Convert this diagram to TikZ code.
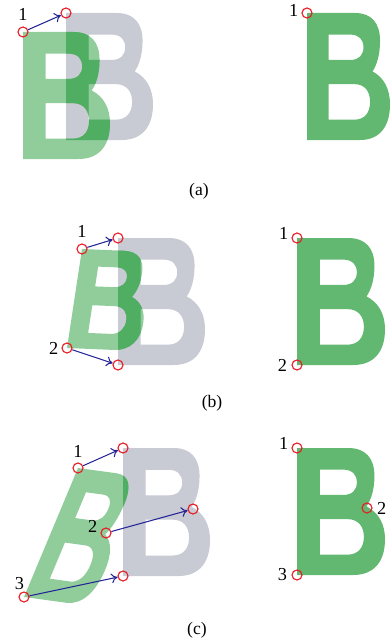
\documentclass[tikz,border=0pt]{standalone}
\usepackage{fontspec}
\setmainfont{Liberation Serif}
\usetikzlibrary{positioning,arrows.meta}

\definecolor{leafgreen}{RGB}{98,184,113}
\definecolor{deepgreen}{RGB}{80,174,98}
\definecolor{ghostgrey}{RGB}{200,202,212}
\definecolor{ringred}{RGB}{232,28,36}
\definecolor{arrowblue}{RGB}{36,36,150}

% letter B in a unit box, v pointing down
\newcommand{\Bpath}{(0,0) -- (0.58,0) .. controls (0.78,0) and (0.88,0.08) .. (0.88,0.22)
  .. controls (0.88,0.33) and (0.84,0.41) .. (0.79,0.46)
  .. controls (0.93,0.51) and (1,0.60) .. (1,0.72)
  .. controls (1,0.89) and (0.88,1) .. (0.64,1) -- (0,1) -- cycle
  (0.26,0.17) -- (0.52,0.17) .. controls (0.63,0.17) and (0.68,0.21) .. (0.68,0.27)
  .. controls (0.68,0.33) and (0.63,0.37) .. (0.52,0.37) -- (0.26,0.37) -- cycle
  (0.26,0.56) -- (0.57,0.56) .. controls (0.70,0.56) and (0.76,0.62) .. (0.76,0.70)
  .. controls (0.76,0.78) and (0.70,0.84) .. (0.57,0.84) -- (0.26,0.84) -- cycle}

\begin{document}
\begin{tikzpicture}[x=0.025cm, y=-0.025cm,
    ring/.style={circle, draw=ringred, line width=0.8pt, inner sep=0pt, minimum size=0.25cm},
    num/.style={inner sep=0pt, font=\fontsize{13}{15}\selectfont},
    panel/.style={inner sep=0pt, font=\fontsize{12.5}{15}\selectfont},
    arrow/.style={-{To[length=4.5pt,width=7pt]}, draw=arrowblue, line width=0.75pt},
    letterframe/.style n args={4}{x={(#1*0.025cm,-#2*0.025cm)}, y={(#3*0.025cm,-#4*0.025cm)}},
    fixedB/.style={fill=ghostgrey, even odd rule},
    movingB/.style={fill=leafgreen, fill opacity=0.7, even odd rule},
    solidB/.style={fill=leafgreen, even odd rule}
]
\useasboundingbox (0,0) rectangle (392,644);

% (a) shift only
\fill[fixedB, shift={(66,13)}, letterframe={87}{0}{0}{127}] \Bpath;
\fill[movingB, shift={(23,32)}, letterframe={87}{0}{0}{127}] \Bpath;
\begin{scope}[even odd rule]
  \clip[shift={(66,13)}, letterframe={87}{0}{0}{127}] \Bpath;
  \fill[deepgreen, shift={(23,32)}, letterframe={87}{0}{0}{127}] \Bpath;
\end{scope}
\fill[solidB, shift={(307,13)}, letterframe={83}{0}{0}{127}] \Bpath;

\node[ring] (a1) at (23,32) {};
\node[ring] (a1t) at (66,13) {};
\node[num, above=4pt of a1] (a1n) {1};
\draw[arrow] (a1) -- (a1t);
\node[ring] (ar1) at (307,13) {};
\node[num, left=2pt of ar1, yshift=2pt] (ar1n) {1};
\node[panel] (capa) at (199,191) {(a)};

% (b) two points
\fill[fixedB, shift={(118,238)}, letterframe={87}{0}{0}{127}] \Bpath;
\fill[movingB, shift={(82,249)}, letterframe={72}{3}{-15}{99}] \Bpath;
\begin{scope}[even odd rule]
  \clip[shift={(118,238)}, letterframe={87}{0}{0}{127}] \Bpath;
  \fill[deepgreen, shift={(82,249)}, letterframe={72}{3}{-15}{99}] \Bpath;
\end{scope}
\fill[solidB, shift={(297,238)}, letterframe={88}{0}{0}{127}] \Bpath;

\node[ring] (b1) at (82,249) {};
\node[ring] (b2) at (67,348) {};
\node[ring] (b1t) at (118,238) {};
\node[ring] (b2t) at (118,365) {};
\node[num, above=4pt of b1] (b1n) {1};
\node[num, left=2pt of b2] (b2n) {2};
\draw[arrow] (b1) -- (b1t);
\draw[arrow] (b2) -- (b2t);
\node[ring] (br1) at (297,238) {};
\node[ring] (br2) at (297,365) {};
\node[num, left=2pt of br1, yshift=3pt] (br1n) {1};
\node[num, left=3pt of br2] (br2n) {2};
\node[panel] (capb) at (212,403) {(b)};

% (c) three points
\fill[fixedB, shift={(123,448)}, letterframe={87}{0}{0}{128}] \Bpath;
\fill[movingB, shift={(78,468)}, letterframe={66}{9}{-54}{129}] \Bpath;
\begin{scope}[even odd rule]
  \clip[shift={(123,448)}, letterframe={87}{0}{0}{128}] \Bpath;
  \fill[deepgreen, shift={(78,468)}, letterframe={66}{9}{-54}{129}] \Bpath;
\end{scope}
\fill[solidB, shift={(297,448)}, letterframe={88}{0}{0}{127}] \Bpath;

\node[ring] (c1) at (78,468) {};
\node[ring] (c2) at (106,533) {};
\node[ring] (c3) at (24,597) {};
\node[ring] (c1t) at (123,448) {};
\node[ring] (c2t) at (193,509) {};
\node[ring] (c3t) at (123,576) {};
\node[num, above=3pt of c1] (c1n) {1};
\node[num, left=2pt of c2, yshift=5pt] (c2n) {2};
\node[num, above left=2pt and -3pt of c3] (c3n) {3};
\draw[arrow] (c1) -- (c1t);
\draw[arrow] (c2) -- (c2t);
\draw[arrow] (c3) -- (c3t);
\node[ring] (cr1) at (297,448) {};
\node[ring] (cr2) at (367,508) {};
\node[ring] (cr3) at (297,575) {};
\node[num, left=2pt of cr1, yshift=3pt] (cr1n) {1};
\node[num, right=3pt of cr2] (cr2n) {2};
\node[num, left=3pt of cr3] (cr3n) {3};
\node[panel] (capc) at (197,630) {(c)};

\end{tikzpicture}
\end{document}
